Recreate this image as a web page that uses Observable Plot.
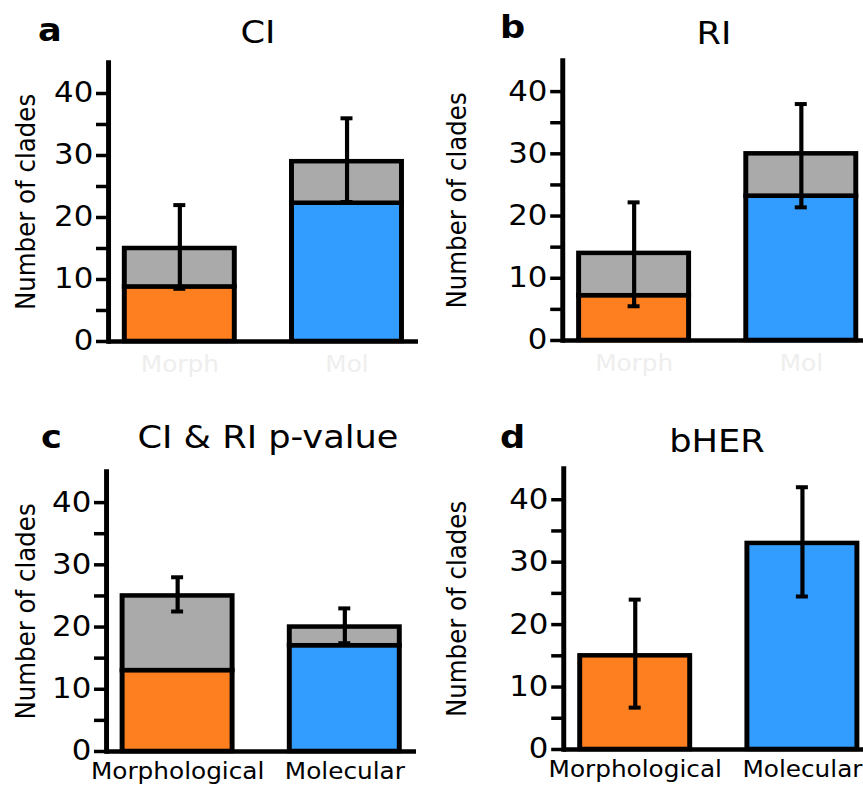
<!DOCTYPE html>
<html>
<head>
<meta charset="utf-8">
<script src="https://cdn.jsdelivr.net/npm/d3@7"></script>
<script src="https://cdn.jsdelivr.net/npm/@observablehq/plot@0.6"></script>
<style>
  html, body { margin: 0; padding: 0; background: #fff; }
  #outer { position: relative; width: 863px; height: 786px; overflow: hidden; background: #fff; font-family: "DejaVu Sans", sans-serif; }
  #inner { position: absolute; left: 0; top: 0; height: 786px; transform-origin: 0 0; }
  .panel { position: absolute; }
  .ttl { position: absolute; white-space: nowrap; color: #000; line-height: 1; }
</style>
</head>
<body>
<div id="outer"><div id="inner"></div></div>
<script>
// ---- data ----
const panelLetters = ["a", "b", "c", "d"];
const panelTitles = ["CI", "RI", "CI & RI p-value", "bHER"];
const categories = ["Morphological", "Molecular"];
const tickLabelsTop = ["Morph", "Mol"];          // faint labels in panels a, b
const tickLabelsBottom = ["Morphological", "Molecular"];
const barColors = ["#fe7f1f", "#339cff"];
const greyColor = "#aaaaaa";
const yTicks = [0, 5, 10, 15, 20, 25, 30, 35, 40];

// colored (lower) part of each bar, per panel: [Morphological, Molecular]
const coloredA = [8.8, 22.3];
const coloredB = [7.2, 23.2];
const coloredC = [13, 17];
const coloredD = [15, 33];
// full bar height (colored + grey)
const totalA = [15, 29];
const totalB = [14, 30];
const totalC = [25, 20];
const totalD = [15, 33];
// error bar ends
const errLowA = [8.5, 22.5];
const errHighA = [22, 36];
const errLowB = [5.5, 21.4];
const errHighB = [22.2, 38];
const errLowC = [22.5, 17.4];
const errHighC = [28, 23];
const errLowD = [6.7, 24.5];
const errHighD = [24, 42];

// ---- layout (reference pixel units; horizontal compressed by S, then stretched back) ----
const S = 1.1;
const inner = document.getElementById("inner");
inner.style.width = (863 / S) + "px";
inner.style.transform = `scaleX(${S})`;

const panels = [
  {colored: coloredA, total: totalA, lo: errLowA, hi: errHighA, labels: tickLabelsTop, labelFill: "#eeeeee", pad: 15,
   left: 0, top: 40, width: 431, height: 353, mLeft: 108, mTop: 22, mBottom: 52,
   letterX: 38, letterBase: 41, titleX: 258, titleBase: 43},
  {colored: coloredB, total: totalB, lo: errLowB, hi: errHighB, labels: tickLabelsTop, labelFill: "#eeeeee", pad: 15,
   left: 431, top: 40, width: 441, height: 353, mLeft: 131, mTop: 20, mBottom: 53,
   letterX: 500, letterBase: 38, titleX: 714, titleBase: 44},
  {colored: coloredC, total: totalC, lo: errLowC, hi: errHighC, labels: tickLabelsBottom, labelFill: "#000", pad: 12,
   left: 0, top: 433, width: 431, height: 353, mLeft: 106, mTop: 38, mBottom: 35,
   letterX: 41, letterBase: 448, titleX: 268, titleBase: 448},
  {colored: coloredD, total: totalD, lo: errLowD, hi: errHighD, labels: tickLabelsBottom, labelFill: "#000", pad: 12,
   left: 431, top: 433, width: 441, height: 353, mLeft: 132, mTop: 35, mBottom: 37,
   letterX: 500, letterBase: 448, titleX: 717, titleBase: 452}
];

const frameW = 310; // reference px
const bandW = 110;  // reference px
const capW = 12;    // reference px
const BASE = 0.846; // baseline offset (em) for line-height 1 in DejaVu Sans

panels.forEach((p, i) => {
  const rows = categories.map((c, j) => ({
    cat: c, label: p.labels[j], color: barColors[j],
    colored: p.colored[j], total: p.total[j], lo: p.lo[j], hi: p.hi[j]
  }));
  const greyRows = rows.filter(r => r.total > r.colored);
  const capInset = (bandW - capW) / 2 / S;
  const labelMap = new Map(rows.map(r => [r.cat, r.label]));

  const chart = Plot.plot({
    width: p.width / S,
    height: p.height,
    marginLeft: p.mLeft / S,
    marginRight: (p.width - p.mLeft - frameW) / S,
    marginTop: p.mTop,
    marginBottom: p.mBottom,
    style: {fontFamily: "DejaVu Sans, sans-serif", color: "#000", background: "transparent", overflow: "visible"},
    x: {domain: categories, paddingInner: 0.345, paddingOuter: 0.095, axis: null},
    y: {domain: [0, 45], axis: null},
    marks: [
      Plot.barY(rows, {x: "cat", y1: 0, y2: "colored", fill: "color", stroke: "#000", strokeWidth: 4.5, strokeLinejoin: "miter"}),
      Plot.barY(greyRows, {x: "cat", y1: "colored", y2: "total", fill: greyColor, stroke: "#000", strokeWidth: 4.5, strokeLinejoin: "miter"}),
      Plot.ruleX(rows, {x: "cat", y1: "lo", y2: "hi", stroke: "#000", strokeWidth: 3.8}),
      Plot.tickY(rows, {x: "cat", y: "lo", stroke: "#000", strokeWidth: 4, insetLeft: capInset, insetRight: capInset}),
      Plot.tickY(rows, {x: "cat", y: "hi", stroke: "#000", strokeWidth: 4, insetLeft: capInset, insetRight: capInset}),
      Plot.ruleY([0], {stroke: "#000", strokeWidth: 4.5}),
      Plot.frame({anchor: "left", stroke: "#000", strokeWidth: 4.5}),
      Plot.axisY({ticks: yTicks, tickFormat: d => (d % 10 === 0 ? String(d) : ""), tickSize: 12 / S, tickPadding: 3,
                  strokeWidth: 3.5, fontSize: 28, label: null, anchor: "left", fill: "#000"}),
      Plot.axisX({tickSize: 0, tickPadding: p.pad, fontSize: 22.5, label: null, anchor: "bottom",
                  tickFormat: d => labelMap.get(d), fill: p.labelFill}),
      Plot.text(["Number of clades"], {frameAnchor: "left", rotate: -90, textAnchor: "middle", lineAnchor: "middle",
                  dx: (26 - p.mLeft) / S, fontSize: 24.5, fill: "#000"})
    ]
  });

  const div = document.createElement("div");
  div.className = "panel";
  div.style.left = (p.left / S) + "px";
  div.style.top = p.top + "px";
  div.style.width = (p.width / S) + "px";
  div.style.height = p.height + "px";
  div.appendChild(chart);
  inner.appendChild(div);

  // panel letter
  const letterSize = 32;
  const L = document.createElement("div");
  L.className = "ttl";
  L.textContent = panelLetters[i];
  L.style.fontSize = letterSize + "px";
  L.style.fontWeight = "bold";
  L.style.left = (p.letterX / S) + "px";
  L.style.top = (p.letterBase - letterSize * BASE) + "px";
  inner.appendChild(L);

  // panel title (centered)
  const titleSize = 32;
  const T = document.createElement("div");
  T.className = "ttl";
  T.textContent = panelTitles[i];
  T.style.fontSize = titleSize + "px";
  T.style.left = (p.titleX / S) + "px";
  T.style.transform = "translateX(-50%)";
  T.style.top = (p.titleBase - titleSize * BASE) + "px";
  inner.appendChild(T);
});
</script>
</body>
</html>
